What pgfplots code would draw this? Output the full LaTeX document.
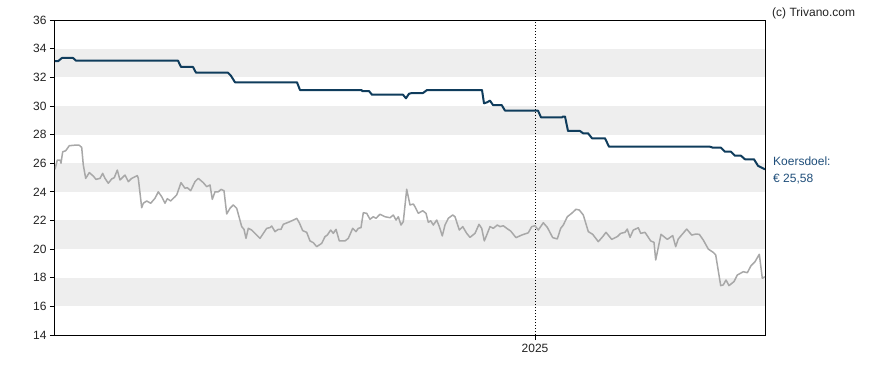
\documentclass[border=0pt]{standalone}
\usepackage{pgfplots}
\pgfplotsset{compat=1.18}
\usepackage{fontspec}
\setmainfont{Liberation Sans}
\definecolor{navy}{HTML}{0F3C5C}
\definecolor{pricegray}{HTML}{A8A8A8}
\definecolor{band}{HTML}{EEEEEE}
\definecolor{kdblue}{HTML}{1F4E7A}
\definecolor{txt}{HTML}{222222}
\begin{document}
\begin{tikzpicture}[x=1pt,y=1pt]
\begin{axis}[
  scale only axis, width=710pt, height=315pt,
  xmin=55, xmax=765, ymin=14, ymax=36,
  ytick={14,16,...,36},
  xtick={535}, xticklabels={2025},
  tick align=outside, ytick pos=left, xtick pos=bottom,
  major tick length=5pt,
  tick style={black, line width=0.8pt},
  axis line style={black, line width=1pt},
  tick label style={font=\fontsize{12}{14}\selectfont, text=txt},
  /pgf/number format/assume math mode=true,
  xticklabel style={yshift=-1pt},
  clip=true,
]
\coordinate (bl) at (rel axis cs:0,0);
\foreach \lo in {16,20,24,28,32} {
  \edef\tmp{\noexpand\fill[band] (axis cs:55,\lo) rectangle (axis cs:765,\the\numexpr\lo+2\relax);}
  \tmp
}
\draw[black, line width=0.8pt, dash pattern=on 1pt off 2pt] (axis cs:535,14) -- (axis cs:535,36);
\addplot[pricegray, line width=1.5pt, line join=round] coordinates {
(55,25.57) (57.3,26.22) (60,26.22) (61,26.0) (62.7,26.8) (65.7,26.87) (69.3,27.22) (76.7,27.27) (79.3,27.25) (81.7,27.1)
(83.3,25.87) (85.7,24.94) (89.3,25.34) (93.3,25.1) (96,24.87) (100,24.94) (102.7,25.29) (105,24.94) (108.3,24.6) (111.7,24.9)
(114.3,24.99) (117.3,25.52) (120,24.83) (125,25.17) (128.3,24.71) (131.7,24.94) (137.3,25.13) (138.3,24.94) (141.7,22.89) (143.3,23.2)
(146.7,23.36) (150.7,23.2) (155,23.55) (158.3,24.0) (161.7,23.66) (165,23.2) (167.3,23.52) (170.7,23.36) (175,23.66) (176.7,23.78)
(181,24.64) (185,24.25) (187.3,24.29) (190.7,24.08) (195,24.71) (198.3,24.94) (203.3,24.64) (206.7,24.36) (210,24.48) (212.3,23.48)
(215,24.0) (218.3,24.0) (221,24.17) (224,24.08) (226.7,22.45) (230,22.85) (233.3,23.08) (236.7,22.85) (241.7,21.57) (244,21.38)
(246,20.75) (248.3,21.45) (251.7,21.33) (260,20.75) (266.7,21.45) (270,21.5) (271.7,21.61) (275,21.22) (278.3,21.38) (281,21.38)
(283.3,21.73) (290,21.92) (295,22.08) (296.7,22.15) (299.3,21.84) (302.7,21.29) (306.7,21.17) (310,20.57) (313.3,20.45) (316.7,20.17)
(321.7,20.4) (325,20.87) (327.3,20.98) (330.7,21.33) (333.3,21.1) (336,21.38) (339.3,20.57) (345,20.57) (348.3,20.75) (352.7,21.45)
(356,21.22) (358.3,21.45) (361,21.5) (363.3,22.54) (366.7,22.5) (370,22.08) (373.3,22.26) (376,22.15) (380,22.43) (385,22.26)
(390,22.19) (393.3,22.38) (396,22.03) (398.3,22.26) (401,21.68) (403.3,21.92) (406.7,24.18) (410,23.08) (413.3,23.15) (415,22.96)
(418.3,22.5) (422.7,22.68) (426,22.5) (428.3,21.87) (430.7,21.98) (433.3,21.68) (436.7,22.03) (439.3,21.57) (442.3,20.92) (445,21.68)
(448.3,22.15) (452.7,22.38) (455,22.26) (459.3,21.33) (462.7,21.57) (466.7,21.1) (470,20.82) (475,21.1) (479,21.73) (481.7,21.45)
(484.3,20.57) (486.7,20.98) (490,21.57) (493.3,21.45) (497.3,21.68) (500,21.57) (503.3,21.63) (506.7,21.45) (510.7,21.26) (516,20.8)
(521.7,20.98) (528.3,21.14) (531.7,21.57) (535,21.63) (538.3,21.33) (543.3,21.84) (547.3,21.52) (552.7,20.8) (557.3,20.71) (560.7,21.45)
(563.3,21.68) (567.3,22.26) (571.7,22.5) (576,22.78) (579.3,22.73) (583.3,22.38) (588.3,21.22) (592.7,21.03) (598.3,20.52) (602.7,20.87)
(606,21.17) (611.7,20.68) (617.3,20.87) (620.7,21.1) (625,21.17) (627.3,21.4) (630,20.82) (633.3,21.33) (638.3,21.49) (640.7,21.1)
(645,21.17) (650.7,20.57) (654,20.47) (655.7,19.24) (661,21.03) (667.3,20.68) (672.7,20.94) (675.7,20.17) (678.3,20.71) (686.7,21.4)
(691.7,20.98) (695.7,21.05) (699.3,21.03) (703.3,20.63) (708.3,20.0) (713.3,19.77) (715.7,19.59) (720.7,17.45) (723.3,17.5) (726,17.84)
(729,17.45) (734,17.73) (737.3,18.19) (743.3,18.42) (747.3,18.35) (751,18.84) (755,19.12) (759.3,19.64) (762.3,17.96) (765,18.07)
};
\addplot[navy, line width=2pt, line join=round] coordinates {
(55,33.12) (58,33.12) (62,33.35) (73,33.35) (76,33.16) (178,33.16) (181,32.72) (193,32.72) (196,32.32) (228,32.32)
(231,32.1) (235,31.65) (297,31.65) (300,31.11) (361.7,31.11) (362,31.04) (369,31.04) (372,30.78) (403,30.78) (406,30.53)
(409,30.85) (412,30.9) (423,30.9) (427,31.11) (482,31.11) (484,30.18) (487,30.25) (490,30.37) (493,30.06) (501.7,30.06)
(505,29.67) (538,29.67) (541,29.2) (562,29.2) (563,29.26) (565,29.26) (568,28.25) (580,28.25) (583,28.09) (588,28.09)
(592,27.74) (605,27.74) (609,27.15) (710,27.15) (713,27.08) (721,27.08) (725,26.8) (731,26.8) (735,26.52) (741,26.52)
(745,26.27) (754,26.27) (758,25.82) (765,25.57)
};
\end{axis}
\node[anchor=west, inner sep=0pt, text=txt, font=\fontsize{12}{14}\selectfont] at ([shift={(717,322)}]bl) {(c) Trivano.com};
\node[anchor=west, inner sep=0pt, text=kdblue, font=\fontsize{12}{14}\selectfont] at ([shift={(718,174)}]bl) {Koersdoel:};
\node[anchor=west, inner sep=0pt, text=kdblue, font=\fontsize{12}{14}\selectfont] at ([shift={(718,156)}]bl) {€ 25,58};
\pgfresetboundingbox
\useasboundingbox ([shift={(-55,-35)}]bl) rectangle ([shift={(833,335)}]bl);
\end{tikzpicture}
\end{document}
